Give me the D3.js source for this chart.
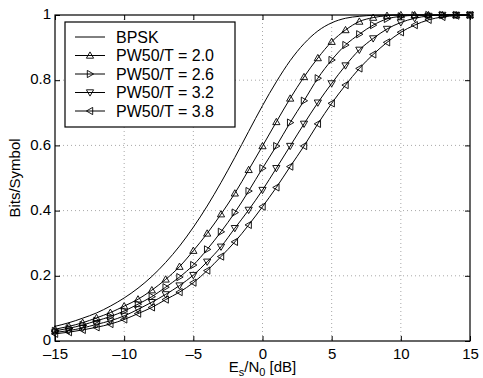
<!DOCTYPE html>
<html><head><meta charset="utf-8">
<script src="https://cdn.jsdelivr.net/npm/d3@7"></script>
<style>body{margin:0;background:#fff}svg{display:block}text{font-family:"Liberation Sans",Arial,Helvetica,sans-serif}</style>
</head><body><svg id="c" width="483" height="378"></svg>
<script>
const snrDb = [-15,-14,-13,-12,-11,-10,-9,-8,-7,-6,-5,-4,-3,-2,-1,0,1,2,3,4,5,6,7,8,9,10,11,12,13,14,15];
const bpsk = [0.045,0.056,0.070,0.086,0.107,0.132,0.162,0.198,0.241,0.291,0.349,0.414,0.486,0.563,0.643,0.722,0.795,0.860,0.912,0.951,0.976,0.990,0.996,0.999,1.0,1.0,1.0,1.0,1.0,1.0,1.0];
const pw20 = [0.036,0.045,0.056,0.071,0.087,0.107,0.128,0.156,0.189,0.228,0.277,0.330,0.389,0.453,0.525,0.598,0.672,0.744,0.810,0.868,0.918,0.954,0.980,0.992,0.998,1.0,1.0,1.0,1.0,1.0,1.0];
const pw26 = [0.031,0.039,0.049,0.062,0.075,0.092,0.113,0.136,0.165,0.196,0.233,0.281,0.335,0.394,0.460,0.530,0.598,0.670,0.737,0.806,0.862,0.908,0.941,0.969,0.988,0.996,0.999,1.0,1.0,1.0,1.0];
const pw32 = [0.026,0.032,0.040,0.051,0.062,0.077,0.097,0.119,0.143,0.170,0.202,0.243,0.289,0.346,0.402,0.463,0.530,0.598,0.666,0.731,0.790,0.845,0.893,0.928,0.957,0.977,0.990,0.997,1.0,1.0,1.0];
const pw38 = [0.022,0.027,0.034,0.042,0.052,0.066,0.084,0.103,0.127,0.150,0.179,0.216,0.259,0.304,0.356,0.412,0.471,0.535,0.598,0.666,0.729,0.785,0.836,0.879,0.916,0.947,0.969,0.985,0.994,0.998,1.0];
const seriesNames = ["BPSK","PW50/T = 2.0","PW50/T = 2.6","PW50/T = 3.2","PW50/T = 3.8"];
const markerKinds = ["none","up","right","down","left"];
const xTicks = [-15,-10,-5,0,5,10,15];
const xTickLabels = ["\u201315","\u201310","\u20135","0","5","10","15"];
const yTicks = [0,0.2,0.4,0.6,0.8,1];
const yTickLabels = ["0","0.2","0.4","0.6","0.8","1"];

const allSeries = [bpsk,pw20,pw26,pw32,pw38];
const svg = d3.select("#c");
const L=55,R=470,T=15,B=341;
const x = d3.scaleLinear().domain([-15,15]).range([L,R]);
const y = d3.scaleLinear().domain([0,1]).range([B,T]);

// grid
const g = svg.append("g");
g.selectAll(".gx").data(xTicks.slice(1,-1)).enter().append("line")
 .attr("x1",d=>x(d)).attr("x2",d=>x(d)).attr("y1",T).attr("y2",B)
 .attr("stroke","#a8a8a8").attr("stroke-width",1).attr("stroke-dasharray","1,3");
g.selectAll(".gy").data(yTicks.slice(1,-1)).enter().append("line")
 .attr("y1",d=>y(d)).attr("y2",d=>y(d)).attr("x1",L).attr("x2",R)
 .attr("stroke","#a8a8a8").attr("stroke-width",1).attr("stroke-dasharray","1,3");

// axes with inward ticks
const fs = 15;
const xb = svg.append("g").attr("transform",`translate(0,${B})`)
 .call(d3.axisBottom(x).tickValues(xTicks).tickSizeInner(-5).tickSizeOuter(0).tickFormat((d,i)=>xTickLabels[i]));
const xt = svg.append("g").attr("transform",`translate(0,${T})`)
 .call(d3.axisTop(x).tickValues(xTicks).tickSizeInner(-5).tickSizeOuter(0).tickFormat(""));
const yl = svg.append("g").attr("transform",`translate(${L},0)`)
 .call(d3.axisLeft(y).tickValues(yTicks).tickSizeInner(-5).tickSizeOuter(0).tickFormat((d,i)=>yTickLabels[i]));
const yr = svg.append("g").attr("transform",`translate(${R},0)`)
 .call(d3.axisRight(y).tickValues(yTicks).tickSizeInner(-5).tickSizeOuter(0).tickFormat(""));
[xb,xt,yl,yr].forEach(a=>{a.select(".domain").remove();a.selectAll("line").attr("stroke","#000");});
xb.selectAll("text").attr("font-size",fs).attr("fill","#000").attr("y",7).attr("dy","0.71em");
yl.selectAll("text").attr("font-size",fs).attr("fill","#000").attr("x",-4).attr("dy","0.25em");

// curves
const line = d3.line().x((d,i)=>x(snrDb[i])).y(d=>y(d)).curve(d3.curveMonotoneX);
const plot = svg.append("g");
allSeries.forEach(s=>{
  plot.append("path").datum(s).attr("d",line).attr("fill","none").attr("stroke","#000").attr("stroke-width",1);
});
function tri(kind,s){
  const h=s, w=s;
  if(kind==="up") return `M0,${-h}L${w},${h*0.75}L${-w},${h*0.75}Z`;
  if(kind==="down") return `M0,${h}L${w},${-h*0.75}L${-w},${-h*0.75}Z`;
  if(kind==="right") return `M${h},0L${-h*0.75},${w}L${-h*0.75},${-w}Z`;
  if(kind==="left") return `M${-h},0L${h*0.75},${w}L${h*0.75},${-w}Z`;
  return "";
}
allSeries.forEach((s,k)=>{
  if(markerKinds[k]==="none") return;
  plot.selectAll(null).data(s).enter().append("path")
   .attr("transform",(d,i)=>`translate(${x(snrDb[i])},${y(d)})`)
   .attr("d",tri(markerKinds[k],3.6)).attr("fill","none").attr("stroke","#000").attr("stroke-width",0.9);
});

// frame
svg.append("rect").attr("x",L).attr("y",T).attr("width",R-L).attr("height",B-T)
 .attr("fill","none").attr("stroke","#000").attr("stroke-width",1.2);

// labels
const xlab = svg.append("text").attr("x",(L+R)/2).attr("y",372).attr("text-anchor","middle").attr("font-size",fs);
xlab.append("tspan").text("E");
xlab.append("tspan").attr("font-size",11).attr("dy",4).text("s");
xlab.append("tspan").attr("dy",-4).text("/N");
xlab.append("tspan").attr("font-size",11).attr("dy",4).text("0");
xlab.append("tspan").attr("dy",-4).text(" [dB]");
svg.append("text").attr("transform",`translate(20,${(T+B)/2}) rotate(-90)`).attr("text-anchor","middle")
 .attr("font-size",fs).text("Bits/Symbol");

// legend
const lg = svg.append("g");
const lx=65, ly=22, lw=170, lh=105, rowH=18.5;
lg.append("rect").attr("x",lx).attr("y",ly).attr("width",lw).attr("height",lh).attr("fill","#fff").attr("stroke","#000").attr("stroke-width",1.2);
seriesNames.forEach((n,k)=>{
  const cy = ly+15+k*rowH;
  lg.append("line").attr("x1",75).attr("x2",105).attr("y1",cy).attr("y2",cy).attr("stroke","#000");
  if(markerKinds[k]!=="none") lg.append("path").attr("transform",`translate(90,${cy})`).attr("d",tri(markerKinds[k],3.6)).attr("fill","none").attr("stroke","#000").attr("stroke-width",0.9);
  lg.append("text").attr("x",116).attr("y",cy).attr("dy","0.35em").attr("font-size",16).text(n);
});
</script></body></html>
